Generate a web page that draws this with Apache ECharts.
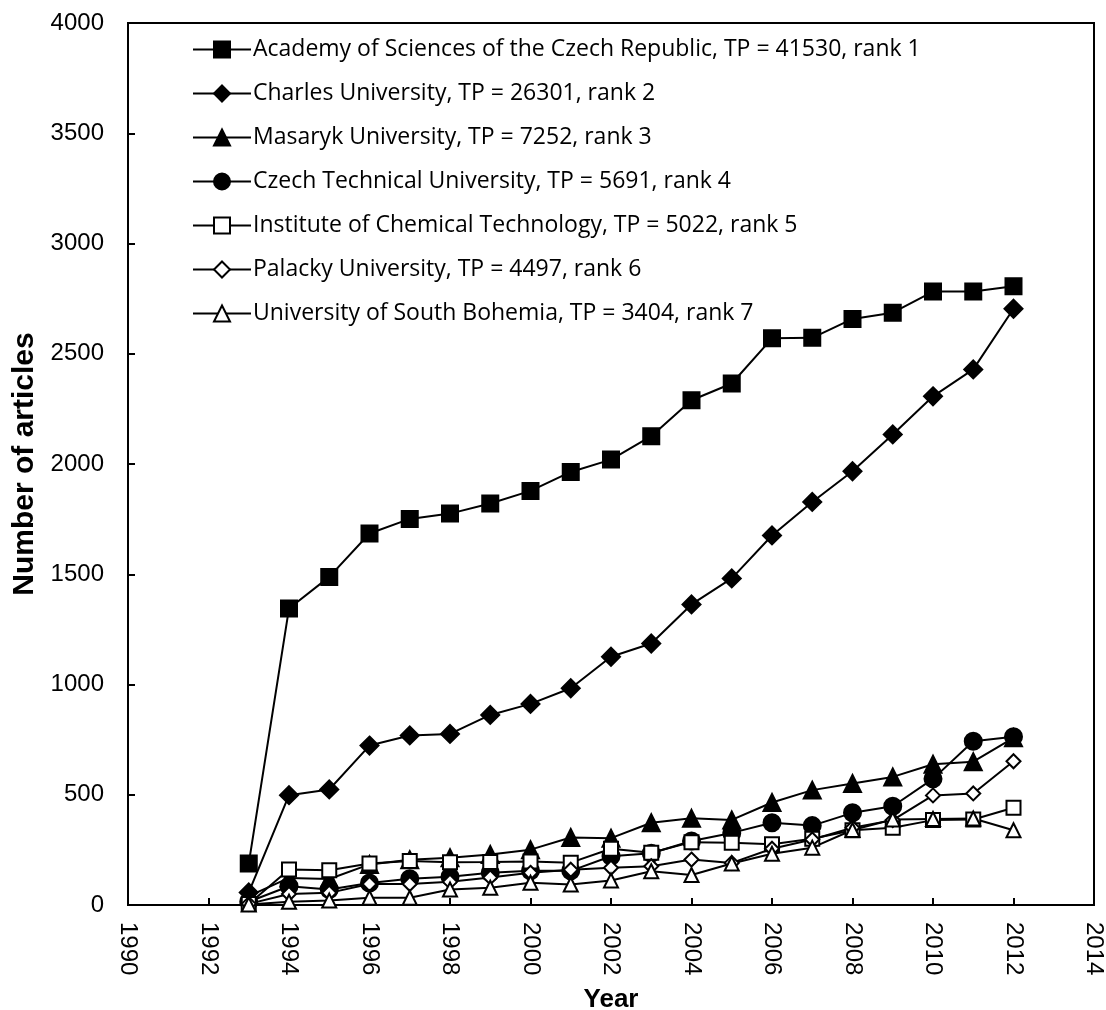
<!DOCTYPE html>
<html>
<head>
<meta charset="utf-8">
<script src="https://cdn.jsdelivr.net/npm/echarts@6/dist/echarts.min.js"></script>
<style>
  html, body { margin: 0; padding: 0; background: #fff; }
  #chart { width: 1106px; height: 1010px; }
</style>
</head>
<body>
<div id="chart"></div>
<script>
// years on the x axis
const years = [1993, 1994, 1995, 1996, 1997, 1998, 1999, 2000, 2001, 2002,
               2003, 2004, 2005, 2006, 2007, 2008, 2009, 2010, 2011, 2012];

const academy   = [188, 1345, 1488, 1685, 1751, 1775, 1821, 1878, 1964, 2020,
                   2126, 2289, 2365, 2570, 2572, 2658, 2686, 2782, 2782, 2806];
const charles   = [57, 498, 524, 723, 769, 776, 862, 912, 983, 1126,
                   1186, 1363, 1481, 1676, 1828, 1967, 2134, 2307, 2429, 2704];
const masaryk   = [40, 123, 118, 184, 205, 214, 229, 251, 306, 303,
                   373, 393, 386, 465, 521, 551, 581, 638, 650, 758];
const czechTech = [15, 85, 70, 100, 119, 128, 146, 155, 155, 221,
                   235, 290, 327, 373, 360, 418, 448, 572, 743, 763];
const chemTech  = [5, 161, 158, 188, 199, 194, 195, 197, 192, 255,
                   237, 285, 282, 275, 300, 339, 350, 385, 388, 441];
const palacky   = [5, 50, 55, 95, 95, 105, 125, 146, 160, 169,
                   176, 206, 191, 255, 297, 350, 385, 497, 506, 652];
const southBoh  = [2, 15, 20, 33, 33, 70, 78, 101, 93, 111,
                   153, 136, 188, 232, 260, 340, 388, 390, 392, 339];

const names = [
  'Academy of Sciences of the Czech Republic, TP = 41530, rank 1',
  'Charles University, TP = 26301, rank 2',
  'Masaryk University, TP = 7252, rank 3',
  'Czech Technical University, TP = 5691, rank 4',
  'Institute of Chemical Technology, TP = 5022, rank 5',
  'Palacky University, TP = 4497, rank 6',
  'University of South Bohemia, TP = 3404, rank 7'
];
const values = [academy, charles, masaryk, czechTech, chemTech, palacky, southBoh];
const symbols = ['rect', 'diamond', 'triangle', 'circle', 'emptyRect', 'emptyDiamond', 'emptyTriangle'];
const sizes = [16, 18, 17, 17, 14, 14, 14];

const chart = echarts.init(document.getElementById('chart'));

const series = names.map((name, i) => ({
  name: name,
  type: 'line',
  data: years.map((y, k) => [y, values[i][k]]),
  symbol: symbols[i],
  symbolSize: sizes[i],
  showAllSymbol: true,
  lineStyle: { color: '#000', width: 2 },
  itemStyle: { color: '#000', borderColor: '#000', borderWidth: 2 },
  emphasis: { disabled: true },
  animation: false
}));

const option = {
  backgroundColor: '#fff',
  animation: false,
  grid: {
    left: 128, right: 12, top: 23, bottom: 105,
    show: true, borderColor: '#000', borderWidth: 2,
    outerBoundsMode: 'none'
  },
  legend: {
    orient: 'vertical',
    left: 187, top: 33,
    itemWidth: 58, itemHeight: 20, itemGap: 21,
    textStyle: { fontFamily: 'Open Sans', fontSize: 23, color: '#000', padding: [0, 0, 0, -3] },
    data: names
  },
  xAxis: {
    type: 'value', min: 1990, max: 2014, interval: 2,
    name: 'Year', nameLocation: 'middle', nameGap: 82,
    nameTextStyle: { fontFamily: 'Liberation Sans', fontWeight: 'bold', fontSize: 26, color: '#000' },
    axisLine: { lineStyle: { color: '#000', width: 2 } },
    axisTick: { inside: true, length: 7, lineStyle: { color: '#000', width: 2 } },
    axisLabel: { rotate: -90, margin: 17, fontFamily: 'Liberation Sans', fontSize: 24, color: '#000',
                 formatter: v => String(v) },
    splitLine: { show: false }
  },
  yAxis: {
    type: 'value', min: 0, max: 4000, interval: 500,
    name: 'Number of articles', nameLocation: 'middle', nameGap: 88, nameRotate: 90,
    nameTextStyle: { fontFamily: 'Liberation Sans', fontWeight: 'bold', fontSize: 30, color: '#000' },
    axisLine: { lineStyle: { color: '#000', width: 2 } },
    axisTick: { inside: true, length: 7, lineStyle: { color: '#000', width: 2 } },
    axisLabel: { margin: 24, fontFamily: 'Liberation Sans', fontSize: 24, color: '#000',
                 formatter: v => String(v) },
    splitLine: { show: false }
  },
  series: series
};

chart.setOption(option);
</script>
</body>
</html>
